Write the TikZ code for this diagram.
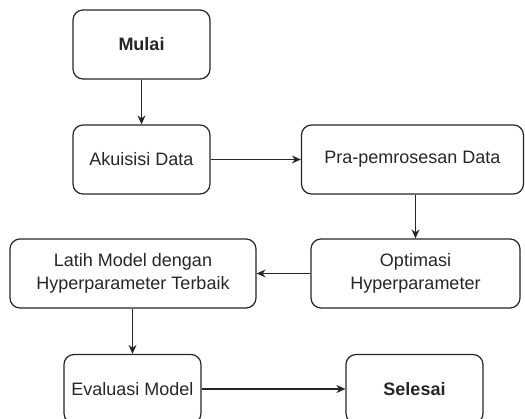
\documentclass[tikz,border=0pt]{standalone}
\usepackage{fontspec}
\setmainfont{Liberation Sans}
\usetikzlibrary{arrows.meta}
\begin{document}
\begin{tikzpicture}[x=1pt,y=-1pt,
  box/.style={draw=black!85, rounded corners=10pt, line width=1.2pt, minimum height=69pt,
    align=center, inner sep=0pt, text=black!85, font=\fontsize{18}{23}\selectfont},
  arr/.style={draw=black!85, line width=1.1pt, -{Stealth[length=9pt,width=8pt]}}]
\clip (0,0) rectangle (525,419);
\node[box, minimum width=137pt, font=\fontsize{18}{23}\selectfont\bfseries] (mulai) at (141.5,44.5) {Mulai};
\node[box, minimum width=137pt] (akuisisi) at (141.5,159.5) {Akuisisi Data};
\node[box, minimum width=222pt] (pra) at (412.5,159.5) {Pra-pemrosesan Data};
\node[box, minimum width=209pt] (opt) at (415.5,273.5) {Optimasi\\Hyperparameter};
\node[box, minimum width=246pt] (latih) at (133,273.5) {Latih Model dengan\\Hyperparameter Terbaik};
\node[box, minimum width=137pt] (eval) at (132.5,389) {Evaluasi Model};
\node[box, minimum width=137pt, font=\fontsize{18}{23}\selectfont\bfseries] (selesai) at (414.5,389) {Selesai};
\draw[arr] (mulai.south) -- (akuisisi.north);
\draw[arr] (akuisisi.east) -- (pra.west);
\draw[arr] (opt.north |- pra.south) -- (opt.north);
\draw[arr] (opt.west) -- (latih.east);
\draw[arr] (eval.north |- latih.south) -- (eval.north);
\draw[arr] (eval.east) -- (selesai.west);
\end{tikzpicture}
\end{document}
